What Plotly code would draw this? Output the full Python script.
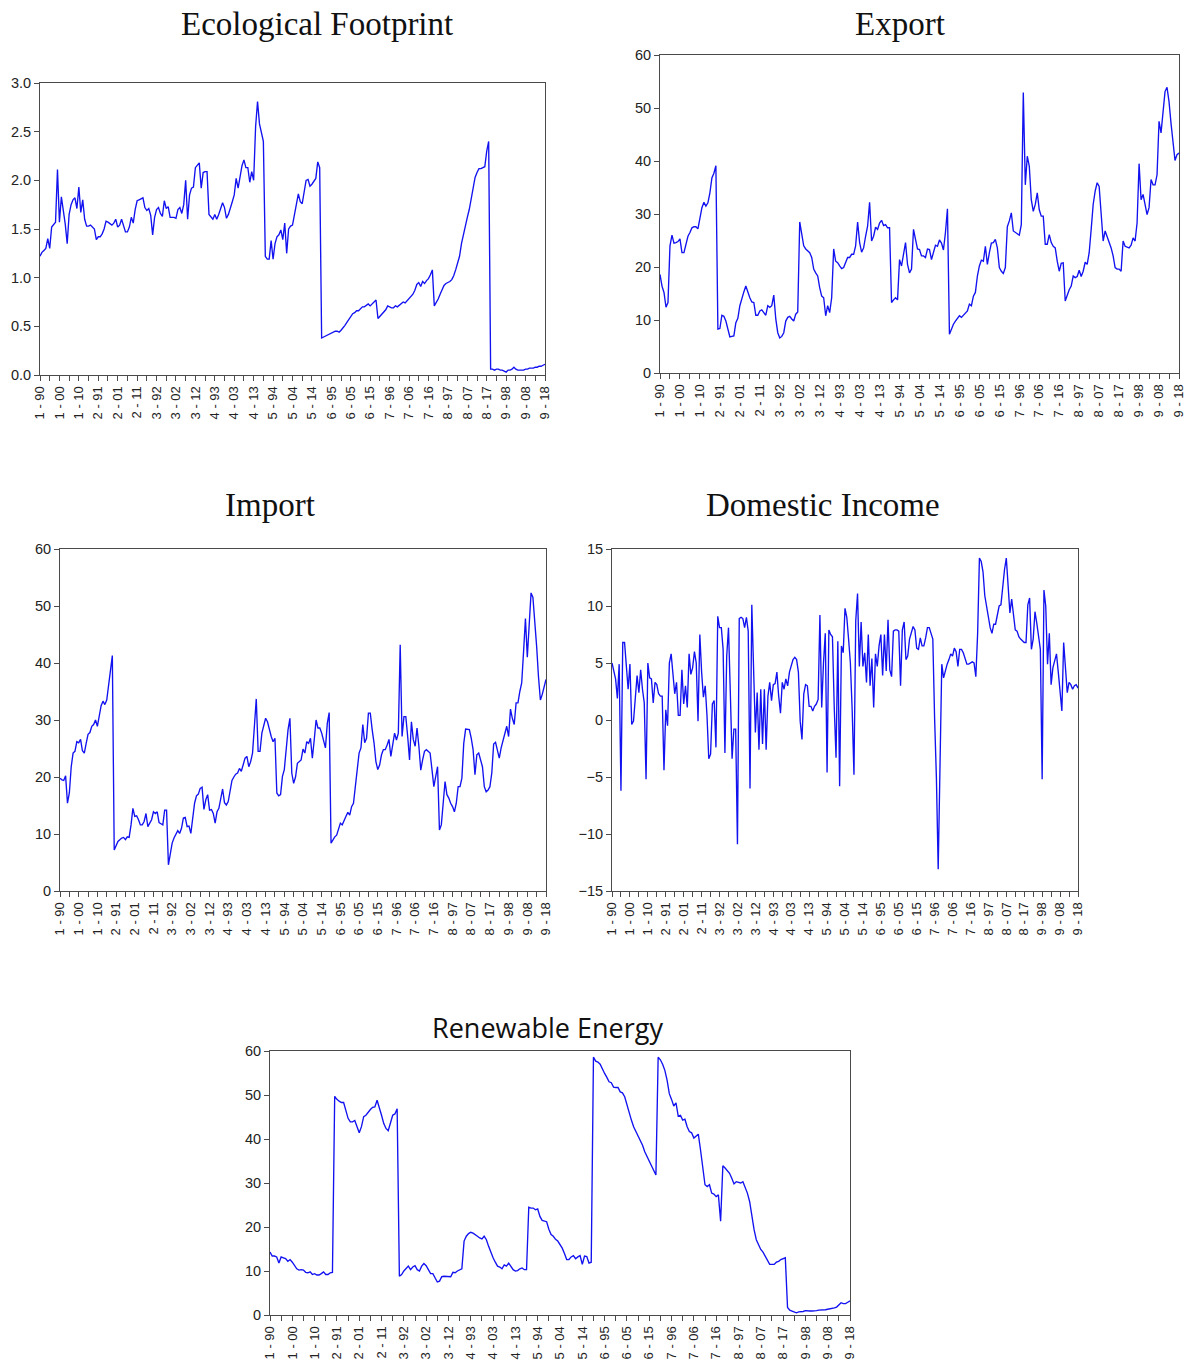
import plotly.graph_objects as go

W, H = 1186, 1360

# ---- x axis: 9 cross-sections x 29 years (1990-2018) = 261 observations ----
N_OBS = 261
TICK_LABELS = ["1 - 90", "1 - 00", "1 - 10", "2 - 91", "2 - 01", "2 - 11",
               "3 - 92", "3 - 02", "3 - 12", "4 - 93", "4 - 03", "4 - 13",
               "5 - 94", "5 - 04", "5 - 14", "6 - 95", "6 - 05", "6 - 15",
               "7 - 96", "7 - 06", "7 - 16", "8 - 97", "8 - 07", "8 - 17",
               "9 - 98", "9 - 08", "9 - 18"]

# ---- series values (29 per cross-section) ----
ECO_FOOTPRINT = [
    1.22, 1.26, 1.28, 1.30, 1.40, 1.30, 1.52, 1.54, 1.57, 2.11, 1.57, 1.83, 1.70, 1.55, 1.35, 1.65, 1.75, 1.80, 1.82, 1.71, 1.93, 1.67, 1.80, 1.60, 1.53, 1.53, 1.54, 1.52, 1.50,
    1.39, 1.42, 1.42, 1.45, 1.50, 1.58, 1.57, 1.55, 1.54, 1.56, 1.60, 1.52, 1.54, 1.60, 1.52, 1.47, 1.47, 1.52, 1.62, 1.56, 1.70, 1.79, 1.80, 1.81, 1.82, 1.72, 1.69, 1.71, 1.64,
    1.44, 1.62, 1.70, 1.72, 1.66, 1.63, 1.79, 1.71, 1.73, 1.62, 1.62, 1.62, 1.61, 1.70, 1.72, 1.66, 1.75, 2.00, 1.60, 1.85, 1.92, 1.93, 2.13, 2.15, 2.18, 1.92, 2.08, 2.09, 2.09,
    1.65, 1.63, 1.60, 1.65, 1.60, 1.65, 1.72, 1.77, 1.72, 1.61, 1.65, 1.73, 1.78, 1.85, 2.02, 1.92, 2.05, 2.15, 2.21, 2.13, 2.13, 1.98, 2.09, 2.00, 2.55, 2.81, 2.58, 2.50, 2.40,
    1.22, 1.19, 1.19, 1.38, 1.19, 1.35, 1.42, 1.44, 1.49, 1.39, 1.56, 1.25, 1.50, 1.53, 1.54, 1.64, 1.75, 1.86, 1.78, 1.76, 1.88, 2.00, 2.01, 1.94, 1.96, 1.99, 2.02, 2.19, 2.13,
    0.38, 0.39, 0.40, 0.41, 0.42, 0.43, 0.44, 0.45, 0.45, 0.44, 0.46, 0.48, 0.51, 0.54, 0.57, 0.60, 0.63, 0.64, 0.66, 0.66, 0.68, 0.70, 0.70, 0.72, 0.73, 0.71, 0.73, 0.74, 0.77,
    0.58, 0.60, 0.63, 0.65, 0.67, 0.71, 0.70, 0.69, 0.69, 0.71, 0.70, 0.72, 0.74, 0.75, 0.74, 0.76, 0.79, 0.80, 0.83, 0.87, 0.93, 0.95, 0.91, 0.96, 0.94, 0.97, 0.99, 1.03, 1.08,
    0.71, 0.74, 0.78, 0.83, 0.88, 0.92, 0.94, 0.95, 0.96, 0.98, 1.02, 1.08, 1.15, 1.22, 1.35, 1.45, 1.55, 1.62, 1.70, 1.82, 1.95, 2.03, 2.08, 2.12, 2.12, 2.13, 2.14, 2.30, 2.40,
    0.06, 0.06, 0.05, 0.06, 0.06, 0.05, 0.05, 0.04, 0.03, 0.05, 0.05, 0.06, 0.08, 0.06, 0.05, 0.05, 0.05, 0.05, 0.06, 0.06, 0.07, 0.07, 0.07, 0.08, 0.08, 0.09, 0.09, 0.10, 0.11,
]

EXPORT = [
    18.6, 16.4, 15.2, 12.4, 13.3, 24.0, 26.0, 24.5, 24.6, 24.8, 25.3, 22.7, 22.7, 24.3, 25.8, 26.5, 27.4, 27.6, 27.6, 27.2, 29.6, 31.2, 32.2, 31.5, 32.1, 34.0, 36.8, 37.7, 39.1,
    8.3, 8.4, 10.9, 10.7, 9.8, 8.3, 6.8, 6.9, 7.0, 9.5, 10.3, 12.7, 14.2, 15.3, 16.4, 15.2, 14.2, 13.4, 13.3, 10.9, 10.9, 11.7, 11.9, 11.4, 10.9, 12.7, 12.4, 12.7, 14.7,
    10.2, 7.6, 6.6, 6.9, 7.6, 9.8, 10.5, 10.7, 10.2, 9.8, 11.1, 11.5, 28.5, 26.5, 24.0, 23.4, 23.0, 22.7, 21.8, 19.6, 18.9, 18.3, 16.1, 14.5, 14.2, 10.8, 12.7, 11.4, 14.2,
    23.4, 21.1, 20.8, 20.2, 19.7, 19.9, 20.8, 21.8, 21.8, 22.4, 22.4, 24.0, 28.5, 24.6, 22.8, 23.6, 25.8, 27.7, 32.2, 24.9, 25.8, 27.5, 27.1, 28.3, 28.8, 27.8, 28.0, 27.4, 27.4,
    13.3, 13.8, 14.2, 13.8, 21.4, 20.2, 22.7, 24.6, 20.5, 18.9, 19.6, 27.1, 25.2, 23.4, 23.3, 22.1, 22.1, 21.8, 23.4, 23.3, 21.4, 22.7, 24.1, 23.9, 25.1, 24.5, 23.2, 26.5, 31.0,
    7.3, 8.3, 9.2, 9.8, 10.2, 10.8, 10.5, 10.9, 11.3, 11.7, 13.0, 12.7, 14.5, 15.2, 18.3, 20.2, 21.3, 21.1, 23.9, 20.5, 22.7, 24.5, 24.6, 25.2, 23.6, 19.9, 19.2, 18.8, 19.9,
    27.6, 28.7, 30.2, 26.8, 26.5, 26.3, 26.0, 28.0, 52.9, 35.5, 40.9, 39.0, 32.7, 30.5, 31.8, 34.0, 30.8, 29.6, 29.6, 24.3, 24.3, 26.1, 24.6, 23.9, 23.6, 21.1, 19.2, 20.7, 20.8,
    13.6, 14.9, 15.7, 16.4, 18.3, 18.0, 18.2, 19.4, 18.2, 19.2, 20.9, 20.5, 22.7, 27.1, 31.8, 34.3, 35.9, 35.2, 30.8, 24.9, 26.8, 25.8, 24.9, 23.6, 22.1, 19.9, 19.6, 19.6, 19.2,
    24.9, 23.9, 23.8, 23.6, 24.1, 25.5, 24.9, 28.3, 39.5, 32.7, 33.7, 32.1, 29.9, 31.2, 36.5, 35.5, 35.5, 37.4, 47.5, 45.3, 48.7, 53.1, 53.9, 51.2, 47.1, 42.8, 40.1, 41.2, 41.5,
]

IMPORT = [
    19.8, 19.5, 19.4, 20.2, 15.4, 17.2, 21.8, 24.2, 24.5, 26.2, 26.0, 26.6, 24.6, 24.2, 25.9, 27.5, 27.8, 28.9, 29.2, 30.0, 28.9, 30.9, 32.5, 33.3, 32.7, 33.5, 35.9, 38.8, 41.3,
    7.2, 8.1, 8.7, 9.0, 9.3, 9.4, 9.0, 9.5, 9.4, 11.6, 14.5, 13.1, 13.2, 12.5, 11.6, 11.6, 12.2, 13.6, 11.3, 11.9, 12.5, 13.9, 13.6, 13.9, 12.0, 11.8, 11.6, 14.2, 14.2,
    4.6, 6.3, 8.4, 9.3, 10.1, 10.6, 10.1, 11.0, 12.8, 12.9, 11.3, 11.4, 10.1, 13.3, 15.4, 16.7, 17.0, 18.0, 18.2, 14.3, 16.0, 16.9, 14.2, 14.3, 13.6, 11.9, 13.9, 14.5, 16.6,
    17.9, 15.5, 15.1, 15.7, 17.7, 19.4, 20.0, 20.5, 20.7, 21.5, 21.0, 22.4, 23.3, 23.6, 21.8, 22.7, 24.2, 28.9, 33.7, 24.5, 24.5, 27.7, 29.2, 30.3, 29.7, 28.3, 27.1, 26.2, 26.8,
    17.2, 16.7, 16.9, 20.1, 21.3, 25.4, 28.3, 30.3, 20.7, 18.9, 20.0, 22.4, 22.7, 23.0, 24.9, 24.2, 26.2, 25.9, 26.8, 23.3, 26.5, 30.0, 28.6, 28.6, 27.7, 26.2, 25.1, 29.4, 31.3,
    8.4, 9.0, 9.5, 9.8, 10.7, 11.9, 11.6, 12.5, 13.1, 13.8, 13.3, 14.8, 15.4, 18.3, 21.5, 24.2, 25.1, 29.2, 26.0, 26.8, 31.2, 31.2, 28.3, 26.0, 22.7, 21.3, 22.1, 23.9, 24.8,
    24.8, 25.6, 26.6, 23.6, 25.9, 27.7, 26.5, 27.7, 43.2, 27.1, 30.6, 30.6, 27.1, 23.0, 29.7, 26.6, 25.4, 28.6, 25.4, 21.2, 23.0, 24.5, 24.8, 24.5, 24.2, 21.3, 18.3, 20.1, 21.8,
    10.7, 11.6, 15.4, 19.2, 16.9, 16.3, 15.4, 14.8, 13.9, 15.4, 18.3, 18.3, 19.8, 25.9, 28.4, 28.4, 28.3, 26.8, 24.8, 20.4, 23.9, 24.2, 22.7, 21.8, 18.3, 17.4, 17.7, 18.3, 20.7,
    25.8, 26.1, 24.5, 23.3, 25.1, 26.5, 27.4, 28.9, 27.1, 31.9, 30.3, 29.2, 33.0, 33.0, 35.0, 36.5, 42.0, 47.8, 41.0, 47.0, 52.3, 51.5, 47.6, 42.9, 37.5, 33.5, 34.5, 36.0, 37.1,
]

DOMESTIC_INCOME = [
    5.0, 4.4, 3.6, 1.9, 4.9, -6.2, 6.8, 6.8, 4.9, 2.7, 4.9, -0.4, -0.1, 2.1, 3.9, 2.4, 4.4, 2.7, 1.5, -5.2, 5.0, 3.7, 3.6, 1.5, 3.3, 3.1, 2.3, 2.1, 2.1,
    -4.4, 0.9, -0.5, 5.0, 5.8, 4.2, 2.3, 3.3, 0.4, 0.4, 4.4, 1.4, 3.0, 1.1, 5.8, 4.0, 4.6, 6.0, 5.0, -0.1, 7.5, 4.2, 2.0, 3.0, 0.4, -3.4, -3.0, 1.4, 1.7,
    -2.4, 9.1, 8.1, 8.1, 6.2, -2.9, 5.6, 8.1, 2.5, -3.4, -0.8, -0.8, -10.9, 8.9, 9.0, 8.9, 8.1, 9.0, 7.8, -6.0, 10.1, 4.2, -1.1, 2.4, -2.6, 2.7, -2.1, 2.7, -2.6,
    2.1, 3.3, 1.7, 3.1, 3.2, 4.2, 2.1, 0.6, 3.3, 2.7, 3.6, 3.0, 4.2, 4.9, 5.3, 5.5, 5.3, 4.2, -0.1, -1.7, 2.3, 3.1, 3.0, 1.2, 1.2, 0.8, 1.2, 1.4, 1.8,
    9.2, 1.1, 5.0, 7.6, -4.6, 7.9, 7.5, 7.3, 1.1, -3.3, 6.9, -5.8, 6.5, 5.9, 9.8, 9.0, 7.1, 5.0, 0.9, -4.8, 8.7, 11.1, 4.7, 8.6, 4.7, 5.9, 3.3, 7.5, 3.0,
    5.4, 1.1, 5.8, 4.7, 6.5, 7.5, 3.9, 7.5, 4.3, 8.8, 4.4, 3.8, 7.8, 7.9, 7.9, 7.8, 3.0, 7.9, 8.6, 5.3, 5.6, 7.1, 7.8, 8.2, 7.9, 6.3, 6.2, 7.2, 6.5,
    6.5, 7.2, 8.1, 8.1, 7.6, 7.1, 0.1, -5.1, -13.1, -2.9, 4.9, 3.7, 4.4, 4.9, 5.3, 5.8, 5.6, 6.3, 6.0, 4.7, 6.2, 6.2, 5.9, 5.3, 4.9, 4.9, 5.0, 5.1, 5.0,
    3.8, 7.6, 14.2, 13.9, 13.0, 10.9, 10.0, 9.2, 8.1, 7.6, 8.4, 8.4, 9.2, 10.0, 10.1, 12.0, 13.2, 14.2, 12.0, 9.4, 10.6, 9.4, 7.9, 7.8, 7.3, 7.1, 6.9, 6.8, 6.8,
    10.1, 10.7, 6.2, 7.1, 9.5, 8.5, 7.3, 6.2, -5.2, 11.4, 10.0, 4.9, 7.6, 3.1, 4.6, 5.3, 5.8, 4.2, 2.1, 0.8, 6.8, 4.2, 2.4, 3.3, 3.1, 2.7, 3.0, 3.1, 2.8,
]

RENEWABLE = [
    14.3, 13.4, 13.4, 13.2, 11.8, 13.2, 13.0, 12.8, 12.2, 12.6, 12.0, 11.2, 10.5, 10.2, 10.3, 10.2, 9.7, 9.6, 9.8, 9.2, 9.4, 9.1, 9.1, 9.4, 9.8, 9.2, 9.2, 9.6, 9.7,
    49.7, 49.0, 48.6, 48.3, 48.3, 46.6, 44.7, 43.9, 43.9, 44.2, 42.9, 41.4, 42.8, 45.1, 45.4, 46.2, 46.7, 47.2, 47.3, 48.8, 47.3, 45.4, 43.5, 42.4, 41.9, 43.5, 45.4, 45.7, 46.9,
    8.8, 9.2, 10.0, 10.5, 11.1, 10.3, 10.9, 11.2, 10.3, 10.0, 11.1, 11.7, 11.2, 10.3, 9.4, 9.4, 8.5, 7.5, 7.7, 8.7, 8.8, 8.8, 8.7, 8.7, 9.7, 9.6, 10.0, 10.3, 10.5,
    16.8, 17.9, 18.5, 18.8, 18.6, 18.3, 17.9, 17.5, 17.3, 17.9, 17.1, 15.6, 14.1, 13.0, 12.0, 11.1, 10.9, 10.5, 11.4, 11.1, 11.8, 11.1, 10.3, 10.0, 10.1, 10.5, 10.7, 10.3, 10.3,
    24.5, 24.3, 24.3, 23.9, 24.1, 22.4, 21.5, 21.3, 21.2, 19.5, 18.3, 17.9, 17.2, 16.8, 16.0, 15.2, 14.0, 12.6, 12.6, 13.2, 13.5, 12.8, 13.2, 13.5, 11.5, 13.4, 13.3, 11.8, 12.0,
    58.6, 57.7, 57.5, 57.0, 55.8, 54.9, 54.0, 53.0, 52.8, 51.8, 51.7, 51.7, 50.7, 50.5, 49.6, 47.7, 45.8, 44.3, 42.8, 41.7, 40.7, 39.8, 38.6, 37.1, 36.0, 34.9, 33.9, 33.0, 31.8,
    58.6, 58.0, 57.0, 55.6, 53.4, 50.3, 49.0, 47.5, 48.2, 45.2, 45.4, 44.3, 44.5, 42.8, 41.7, 41.4, 40.2, 40.7, 41.1, 37.5, 33.7, 29.6, 29.2, 29.6, 27.7, 27.5, 26.9, 27.3, 21.3,
    33.9, 33.4, 32.8, 32.2, 31.1, 29.8, 30.3, 30.1, 30.0, 30.3, 29.2, 27.7, 25.8, 22.4, 19.4, 17.1, 16.0, 14.9, 14.3, 13.4, 12.2, 11.5, 11.5, 11.5, 12.0, 12.2, 12.6, 12.8, 13.0,
    1.7, 1.1, 0.9, 0.7, 0.5, 0.7, 0.7, 0.8, 1.0, 0.9, 0.9, 0.9, 0.9, 1.0, 1.1, 1.1, 1.1, 1.2, 1.3, 1.4, 1.4, 1.6, 1.8, 2.4, 2.8, 2.6, 2.6, 2.9, 3.2,
]

EF_YTICKS = [0.0, 0.5, 1.0, 1.5, 2.0, 2.5, 3.0]
PCT60_YTICKS = [0, 10, 20, 30, 40, 50, 60]
DI_YTICKS = [-15, -10, -5, 0, 5, 10, 15]

for name, s in [("EF", ECO_FOOTPRINT), ("EX", EXPORT), ("IM", IMPORT),
                ("DI", DOMESTIC_INCOME), ("RE", RENEWABLE)]:
    assert len(s) == N_OBS, (name, len(s))

x_idx = list(range(N_OBS))
tickvals = list(range(0, N_OBS, 5))
ticktext = [TICK_LABELS[v // 10] if v % 10 == 0 else "" for v in tickvals]

SERIF = "Liberation Serif, Times New Roman, serif"
SANS = "Liberation Sans, Arial, sans-serif"
LINE_COLOR = "#1212F0"
AX_COLOR = "#4a4a4a"

# (title, data, plot box px (x0, x1, y0, y1), y range, y ticks, tick format,
#  title font family, title size, title center px (cx, cy))
panels = [
    ("Ecological Footprint", ECO_FOOTPRINT, (40, 545, 83, 375), [0, 3], EF_YTICKS, ".1f",
     SERIF, 33, (317, 24)),
    ("Export", EXPORT, (660, 1179, 55, 373), [0, 60], PCT60_YTICKS, "d",
     SERIF, 33, (900, 24)),
    ("Import", IMPORT, (60, 546, 549, 891), [0, 60], PCT60_YTICKS, "d",
     SERIF, 33, (270, 505)),
    ("Domestic Income", DOMESTIC_INCOME, (612, 1078, 549, 891), [-15, 15], DI_YTICKS, "d",
     SERIF, 33, (823, 505)),
    ("Renewable Energy", RENEWABLE, (270, 850, 1051, 1315), [0, 60], PCT60_YTICKS, "d",
     "Open Sans, Noto Sans, sans-serif", 27, (547, 1027)),
]

fig = go.Figure()
layout = dict(
    width=W, height=H,
    margin=dict(l=0, r=0, t=0, b=0, pad=0),
    paper_bgcolor="white", plot_bgcolor="white",
    showlegend=False,
    annotations=[],
)

for k, (title, data, box, yr, yt, yfmt, tfam, tsize, tpos) in enumerate(panels, start=1):
    x0, x1, y0, y1 = box
    xa = "xaxis" if k == 1 else f"xaxis{k}"
    ya = "yaxis" if k == 1 else f"yaxis{k}"
    xref = "x" if k == 1 else f"x{k}"
    yref = "y" if k == 1 else f"y{k}"
    fig.add_trace(go.Scatter(x=x_idx, y=data, mode="lines",
                             line=dict(color=LINE_COLOR, width=1.35),
                             xaxis=xref, yaxis=yref, hoverinfo="skip"))
    layout[xa] = dict(
        domain=[x0 / W, x1 / W], anchor=yref, range=[0, N_OBS - 1],
        showline=True, mirror=True, linecolor=AX_COLOR, linewidth=1,
        ticks="outside", ticklen=5, tickcolor=AX_COLOR, tickwidth=1,
        tickmode="array", tickvals=tickvals, ticktext=ticktext, tickangle=-90,
        tickfont=dict(family=SANS, size=13, color="#222"),
        ticklabeloverflow="allow",
        showgrid=False, zeroline=False, fixedrange=True, automargin=False,
    )
    layout[ya] = dict(
        domain=[1 - y1 / H, 1 - y0 / H], anchor=xref, range=yr,
        showline=True, mirror=True, linecolor=AX_COLOR, linewidth=1,
        ticks="outside", ticklen=5, tickcolor=AX_COLOR, tickwidth=1,
        tickmode="array", tickvals=yt, tickformat=yfmt,
        tickfont=dict(family=SANS, size=14.5, color="#222"),
        ticklabeloverflow="allow",
        showgrid=False, zeroline=False, fixedrange=True, automargin=False,
    )
    layout["annotations"].append(dict(
        text=title, xref="paper", yref="paper",
        x=tpos[0] / W, y=1 - tpos[1] / H, xanchor="center", yanchor="middle",
        showarrow=False, font=dict(family=tfam, size=tsize, color="#111"),
    ))

fig.update_layout(**layout)

# remove the default 8px page margin so the figure sits exactly in the window
POST = ("document.documentElement.style.margin='0';"
        "document.body.style.margin='0';"
        "document.body.style.overflow='hidden';"
        "document.documentElement.style.overflow='hidden';")
fig.write_html("out.html", post_script=POST,
               config={"displayModeBar": False, "staticPlot": True})
